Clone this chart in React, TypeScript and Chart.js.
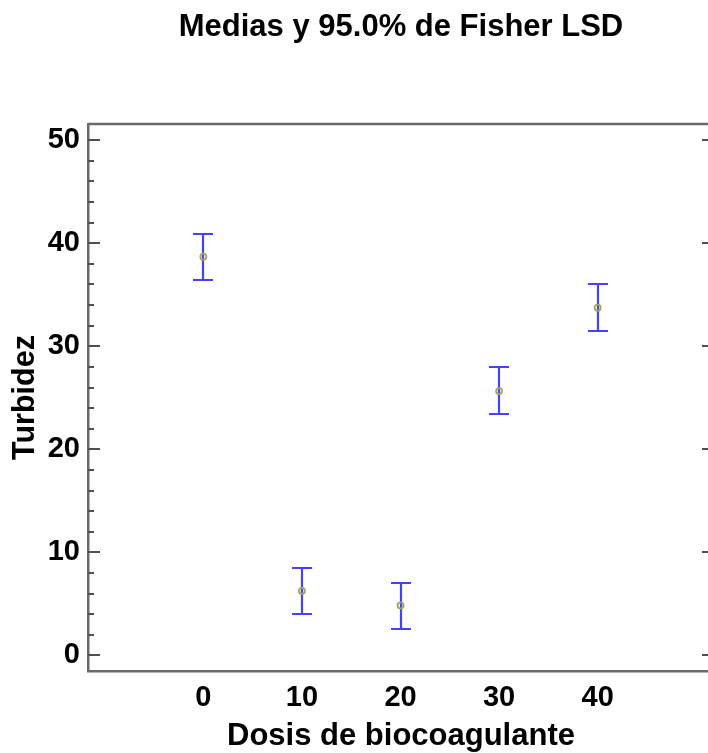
import React, { useEffect, useRef } from "react";
import { Chart, registerables } from "chart.js";

Chart.register(...registerables);

const titleText = "Medias y 95.0% de Fisher LSD";
const xTitle = "Dosis de biocoagulante";
const yTitle = "Turbidez";
const doses = [0, 10, 20, 30, 40];
const means = [38.7, 6.25, 4.85, 25.65, 33.75];
const lower = [36.45, 4.0, 2.6, 23.45, 31.5];
const upper = [40.95, 8.5, 7.05, 27.95, 36.0];
const yTickLabels = [0, 10, 20, 30, 40, 50];
const yMinorStep = 2;

const FONT = "'Liberation Sans', Arial, sans-serif";
const AXIS_COLOR = "#6a6a6a";
const BAR_COLOR = "#4343ff";

const framePlugin = {
  id: "frame",
  beforeDatasetsDraw(chart: any) {
    const { ctx, chartArea } = chart;
    const xs = chart.scales.x;
    const ys = chart.scales.y;
    ctx.save();
    // top and right borders
    ctx.strokeStyle = AXIS_COLOR;
    ctx.lineWidth = 2.5;
    ctx.beginPath();
    ctx.moveTo(chartArea.left, chartArea.top);
    ctx.lineTo(chartArea.right, chartArea.top);
    ctx.lineTo(chartArea.right, chartArea.bottom);
    ctx.stroke();
    // inward ticks on left and right
    ctx.lineWidth = 2;
    ctx.strokeStyle = "#505050";
    ys.ticks.forEach((t: any) => {
      const y = Math.round(ys.getPixelForValue(t.value));
      const len = yTickLabels.includes(t.value) ? 12 : 6;
      ctx.beginPath();
      ctx.moveTo(chartArea.left, y);
      ctx.lineTo(chartArea.left + len, y);
      ctx.moveTo(chartArea.right, y);
      ctx.lineTo(chartArea.right - len, y);
      ctx.stroke();
    });
    // error bars
    ctx.strokeStyle = BAR_COLOR;
    ctx.lineWidth = 2.2;
    doses.forEach((d, i) => {
      const x = Math.round(xs.getPixelForValue(d));
      const yl = Math.round(ys.getPixelForValue(lower[i]));
      const yu = Math.round(ys.getPixelForValue(upper[i]));
      ctx.beginPath();
      ctx.moveTo(x, yu);
      ctx.lineTo(x, yl);
      ctx.moveTo(x - 10, yu);
      ctx.lineTo(x + 10, yu);
      ctx.moveTo(x - 10, yl);
      ctx.lineTo(x + 10, yl);
      ctx.stroke();
    });
    ctx.restore();
  },
};

export default function App() {
  const ref = useRef<HTMLCanvasElement>(null);
  useEffect(() => {
    if (!ref.current) return;
    const chart = new Chart(ref.current, {
      type: "scatter",
      data: {
        datasets: [
          {
            data: doses.map((d, i) => ({ x: d, y: means[i] })),
            pointRadius: 3,
            pointStyle: "circle",
            borderColor: "#a6a65a",
            borderWidth: 1.8,
            backgroundColor: "rgba(0,0,0,0)",
          },
        ],
      },
      options: {
        animation: false,
        responsive: false,
        devicePixelRatio: 1,
        layout: { padding: { left: 0, right: 16, top: 0, bottom: 0 } },
        plugins: {
          legend: { display: false },
          tooltip: { enabled: false },
          title: {
            display: true,
            text: titleText,
            fullSize: false,
            color: "#000",
            font: { family: FONT, size: 31, weight: "bold", lineHeight: 1.2 },
            padding: { top: 9, bottom: 77.8 },
          },
        },
        scales: {
          x: {
            type: "linear",
            min: -11.7,
            max: 51.8,
            grid: { display: false, drawTicks: false },
            border: { display: true, color: AXIS_COLOR, width: 2.5 },
            afterBuildTicks: (s: any) => {
              s.ticks = doses.map((v) => ({ value: v }));
            },
            afterFit: (s: any) => {
              s.height = 82;
            },
            ticks: {
              autoSkip: false,
              maxRotation: 0,
              padding: 10,
              color: "#000",
              font: { family: FONT, size: 29, weight: "bold", lineHeight: 1.2 },
            },
            title: {
              display: true,
              text: xTitle,
              color: "#000",
              font: { family: FONT, size: 31, weight: "bold", lineHeight: 1.0 },
              padding: { top: 0, bottom: 1 },
            },
          },
          y: {
            type: "linear",
            min: -1.52,
            max: 51.58,
            grid: { display: false, drawTicks: false },
            border: { display: true, color: AXIS_COLOR, width: 2.5 },
            afterFit: (s: any) => {
              s.width = 88;
            },
            ticks: {
              stepSize: yMinorStep,
              includeBounds: false,
              autoSkip: false,
              padding: 8,
              color: "#000",
              font: { family: FONT, size: 29, weight: "bold", lineHeight: 1.2 },
              callback: (v: any) => (yTickLabels.includes(v) ? String(v) : ""),
            },
            title: {
              display: true,
              text: yTitle,
              color: "#000",
              font: { family: FONT, size: 30.5, weight: "bold", lineHeight: 1.2 },
              padding: { top: 7, bottom: 0 },
            },
          },
        },
      },
      plugins: [framePlugin],
    } as any);
    return () => chart.destroy();
  }, []);
  return (
    <div
      style={{
        position: "absolute",
        left: 0,
        top: 0,
        width: 708,
        height: 753,
        overflow: "hidden",
        background: "#fff",
      }}
    >
      <canvas ref={ref} width={730} height={753} style={{ display: "block" }} />
    </div>
  );
}
